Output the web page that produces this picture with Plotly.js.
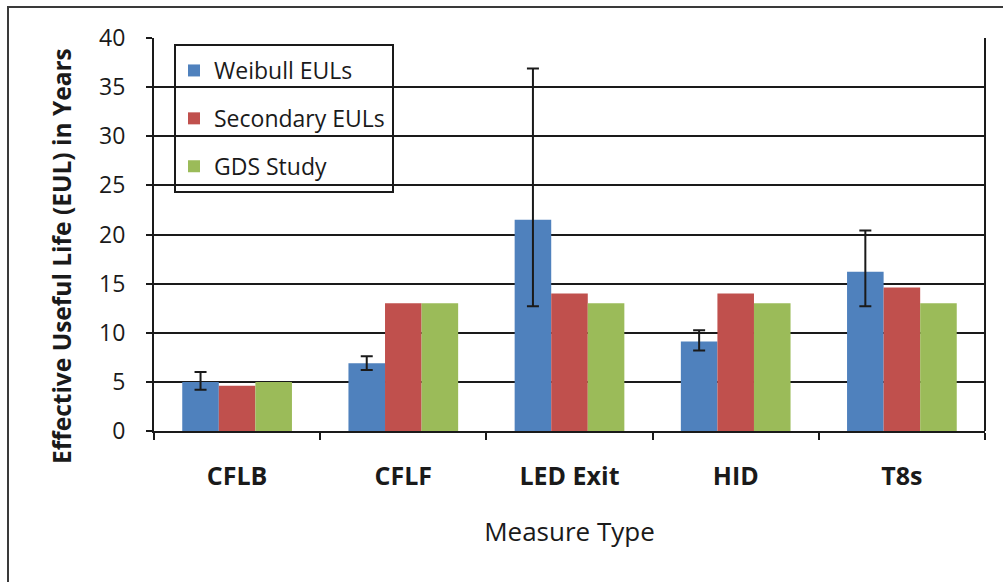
<!DOCTYPE html>
<html>
<head>
<meta charset="utf-8">
<script src="https://cdn.plot.ly/plotly-3.0.1.min.js"></script>
<style>
  html, body { margin: 0; padding: 0; background: #fff; overflow: hidden; }
  #chart { width: 1003px; height: 582px; }
  #frame { position: absolute; left: 7px; top: 6px; width: 1200px; height: 800px;
           border-left: 2px solid #3a3a3a; border-top: 2px solid #3a3a3a; pointer-events: none; }
</style>
</head>
<body>
<div id="chart"></div>
<div id="frame"></div>
<script>
const categories = ["CFLB", "CFLF", "LED Exit", "HID", "T8s"];
const weibull = [5.0, 6.9, 21.5, 9.1, 16.2];
const weibullHigh = [6.0, 7.6, 36.9, 10.25, 20.4];
const weibullLow = [4.2, 6.2, 12.7, 8.2, 12.7];
const secondary = [4.6, 13.0, 14.0, 14.0, 14.6];
const gds = [5.0, 13.0, 13.0, 13.0, 13.0];
const seriesNames = ["Weibull EULs", "Secondary EULs", "GDS Study"];
const yTicks = [0, 5, 10, 15, 20, 25, 30, 35, 40];
const xTitle = "Measure Type";
const yTitle = "Effective Useful Life (EUL) in Years";

const FONT = "'Open Sans', Lato, sans-serif";
const errPlus = weibull.map((v, i) => weibullHigh[i] - v);
const errMinus = weibull.map((v, i) => v - weibullLow[i]);

const traces = [
  {
    type: "bar", name: seriesNames[0], x: categories, y: weibull,
    marker: { color: "#4F81BD" }, legendgroup: "a",
    error_y: { type: "data", symmetric: false, array: errPlus, arrayminus: errMinus,
               color: "#1a1a1a", thickness: 2, width: 6 }
  },
  { type: "bar", name: seriesNames[1], x: categories, y: secondary,
    marker: { color: "#C0504D" }, legendgroup: "b" },
  { type: "bar", name: seriesNames[2], x: categories, y: gds,
    marker: { color: "#9BBB59" }, legendgroup: "c" }
];

const L = 154, R = 985, T = 38, B = 431, W = 1003, H = 582;
const px = (v) => (v - L) / (R - L);
const py = (v) => (B - v) / (B - T);

const layout = {
  width: W, height: H,
  margin: { l: L, r: W - R, t: T, b: H - B },
  paper_bgcolor: "#fff", plot_bgcolor: "#fff",
  font: { family: FONT, color: "#000" },
  barmode: "group", bargap: 0.34, bargroupgap: 0,
  showlegend: true,
  legend: {
    x: px(174), y: py(49), xanchor: "left", yanchor: "top",
    bgcolor: "rgba(0,0,0,0)", borderwidth: 0,
    font: { family: FONT, size: 23, color: "#1a1a1a" },
    tracegroupgap: 15, traceorder: "grouped"
  },
  xaxis: {
    type: "category", tickson: "boundaries", ticks: "outside", ticklen: 7, tickwidth: 2,
    tickcolor: "#1a1a1a", showline: true, linecolor: "#1a1a1a", linewidth: 2,
    showgrid: false, ticklabelstandoff: 22,
    tickfont: { family: FONT, size: 25, color: "#1a1a1a", weight: "bold" },
    title: { text: xTitle, standoff: 32, font: { family: FONT, size: 26, color: "#1a1a1a" } }
  },
  yaxis: {
    range: [0, 40], tickvals: yTicks, ticktext: yTicks.map(String),
    ticks: "outside", ticklen: 6, tickwidth: 2, tickcolor: "#1a1a1a",
    showline: true, linecolor: "#1a1a1a", linewidth: 2,
    showgrid: true, gridcolor: "#1a1a1a", gridwidth: 2, zeroline: false,
    ticklabelstandoff: 16,
    tickfont: { family: FONT, size: 23, color: "#1a1a1a" }
  },
  annotations: [
    { text: yTitle, xref: "paper", yref: "paper", x: px(62), y: py(256),
      xanchor: "center", yanchor: "middle", textangle: -90, showarrow: false,
      font: { family: FONT, size: 24.5, color: "#1a1a1a", weight: "bold" } }
  ],
  shapes: [
    { type: "line", xref: "paper", yref: "paper", x0: 1, x1: 1, y0: 0, y1: 1,
      line: { color: "#1a1a1a", width: 2 } },
    { type: "rect", xref: "paper", yref: "paper", x0: px(175), x1: px(393), y0: py(192), y1: py(45),
      line: { color: "#1a1a1a", width: 2 }, fillcolor: "rgba(0,0,0,0)" }
  ]
};

Plotly.newPlot("chart", traces, layout, { displayModeBar: false, staticPlot: true });
</script>
</body>
</html>
